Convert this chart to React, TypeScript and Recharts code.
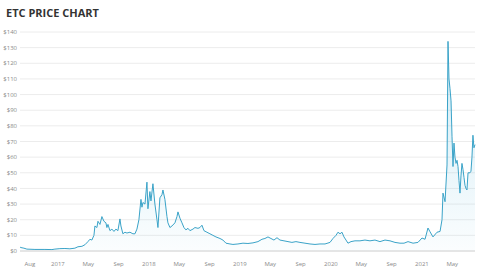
import React from "react";
import { AreaChart, Area, XAxis, YAxis, CartesianGrid } from "recharts";

// month index: 0 = Jan 2016, 12 = Jan 2017, ...
const months = [
  7.0, 7.12, 7.52, 7.91, 8.97, 10.29, 11.21, 11.6, 12.26, 12.92, 13.58, 14.24, 14.64, 15.17, 15.56,
  15.96, 16.22, 16.48, 16.75, 16.88, 17.14, 17.28, 17.54, 17.8, 18.07, 18.33, 18.46, 18.6, 18.86,
  19.12, 19.39, 19.65, 19.91, 20.18, 20.31, 20.57, 20.84, 21.1, 21.5, 21.89, 22.16, 22.42, 22.68,
  22.95, 23.08, 23.21, 23.48, 23.74, 23.87, 24.13, 24.27, 24.53, 24.79, 25.06, 25.19, 25.45, 25.72,
  25.85, 26.11, 26.38, 26.51, 26.77, 27.04, 27.43, 27.7, 27.83, 28.09, 28.36, 28.62, 28.88, 29.15,
  29.41, 29.81, 30.07, 30.47, 30.73, 30.99, 31.26, 31.65, 32.05, 32.44, 32.84, 33.37, 33.76, 34.16,
  34.69, 35.08, 35.74, 36.4, 37.06, 37.72, 38.38, 38.91, 39.3, 39.7, 40.09, 40.49, 40.89, 41.28,
  41.81, 42.34, 42.86, 43.39, 43.92, 44.58, 45.24, 45.9, 46.56, 47.22, 47.88, 48.27, 48.67, 48.93,
  49.2, 49.46, 49.72, 49.99, 50.25, 50.65, 51.17, 51.83, 52.49, 53.15, 53.81, 54.47, 55.13, 55.79,
  56.45, 57.11, 57.64, 58.17, 58.83, 59.48, 60.01, 60.41, 60.8, 61.07, 61.46, 61.99, 62.39, 62.65,
  62.78, 63.05, 63.31, 63.44, 63.57, 63.7, 63.84, 63.97, 64.1, 64.23, 64.36, 64.5, 64.63, 64.76,
  64.89, 65.02, 65.15, 65.28, 65.42, 65.55, 65.68, 65.81, 65.94, 66.08, 66.34, 66.47, 66.6, 66.73,
  66.86, 67.0,
];

const prices = [
  2.5, 2.2, 1.8, 1.2, 1.0, 1.0, 0.9, 1.2, 1.5, 1.6, 1.4, 1.8, 2.7, 3.0, 4.0,
  6.0, 7.5, 7.0, 10, 16, 15, 19, 17, 22, 19, 18, 15, 17, 13,
  14, 12.5, 14, 13, 20.5, 16, 11, 12, 11.5, 12, 11, 11, 14, 20,
  33, 28, 31, 30, 44, 27, 38, 32, 43, 30, 20, 15, 34, 36,
  39, 33, 22, 18, 15, 16, 18, 22, 25, 21, 18, 15, 13.5, 14.5,
  13, 14, 15, 14.5, 15, 16.5, 13, 12, 11, 10, 9, 8, 7, 5,
  4.5, 4.2, 4.5, 5, 4.8, 5.2, 6, 7.5, 8, 9, 8, 7, 8.5, 7,
  6.5, 6, 5.5, 6, 5.5, 5, 4.5, 4.2, 4.5, 4.5, 5.5, 8, 10, 12,
  11, 12, 9, 7, 5, 6, 6.5, 6.5, 7, 6.5, 7, 6, 7, 6.5,
  5.5, 5, 5, 6, 5, 5.5, 8.3, 7.5, 14.7, 12.3, 9, 12, 12.5, 20,
  37, 31.5, 55, 134, 110, 104, 96, 73, 54, 69, 60, 56, 58, 54,
  45, 37, 48, 56, 52, 47, 42, 40, 39, 50, 50, 51, 60, 74,
  66, 68,
];

const xTickValues = [8.3, 12, 16, 20, 24, 28, 32, 36, 40, 44, 48, 52, 56, 60, 64];
const xTickLabels = ["Aug", "2017", "May", "Sep", "2018", "May", "Sep", "2019", "May", "Sep", "2020", "May", "Sep", "2021", "May"];
const yTicks = [0, 10, 20, 30, 40, 50, 60, 70, 80, 90, 100, 110, 120, 130, 140];

const data = months.map((m, i) => ({ m, price: prices[i] }));

const labelFor = (v: number) => {
  const i = xTickValues.indexOf(v);
  return i >= 0 ? xTickLabels[i] : "";
};

export default function App() {
  return (
    <div
      style={{
        position: "fixed",
        left: 0,
        top: 0,
        width: 480,
        height: 273,
        background: "#ffffff",
        overflow: "hidden",
      }}
    >
      <div
        style={{
          position: "absolute",
          left: 6,
          top: 5,
          fontFamily: "'Open Sans', sans-serif",
          fontWeight: 700,
          fontSize: 11,
          color: "#333333",
          letterSpacing: 0,
        }}
      >
        ETC PRICE CHART
      </div>
      <AreaChart
        width={480}
        height={273}
        data={data}
        margin={{ top: 32, right: 5, bottom: 0, left: 0 }}
      >
        <defs>
          <linearGradient id="etcFill" x1="0" y1="0" x2="0" y2="1">
            <stop offset="0%" stopColor="#4fb3d9" stopOpacity={0.45} />
            <stop offset="100%" stopColor="#4fb3d9" stopOpacity={0.04} />
          </linearGradient>
        </defs>
        <CartesianGrid vertical={false} stroke="#ececec" strokeWidth={1} />
        <XAxis
          dataKey="m"
          type="number"
          domain={[7, 67]}
          ticks={xTickValues}
          tickFormatter={labelFor}
          axisLine={{ stroke: "#d6d6d6" }}
          tickLine={false}
          tickSize={6}
          tickMargin={5}
          height={22}
          interval={0}
          tick={{ fill: "#8a8a8a", fontSize: 6, fontFamily: "'Open Sans', sans-serif" }}
        />
        <YAxis
          type="number"
          domain={[0, 140]}
          ticks={yTicks}
          tickFormatter={(v: number) => `$${v}`}
          axisLine={false}
          tickLine={false}
          tickSize={0}
          tickMargin={3}
          width={20}
          interval={0}
          tick={{ fill: "#8a8a8a", fontSize: 6, fontFamily: "'Open Sans', sans-serif" }}
        />
        <Area
          type="linear"
          dataKey="price"
          stroke="#3aa3c8"
          strokeWidth={1}
          fill="url(#etcFill)"
          isAnimationActive={false}
          dot={false}
          activeDot={false}
        />
      </AreaChart>
    </div>
  );
}
